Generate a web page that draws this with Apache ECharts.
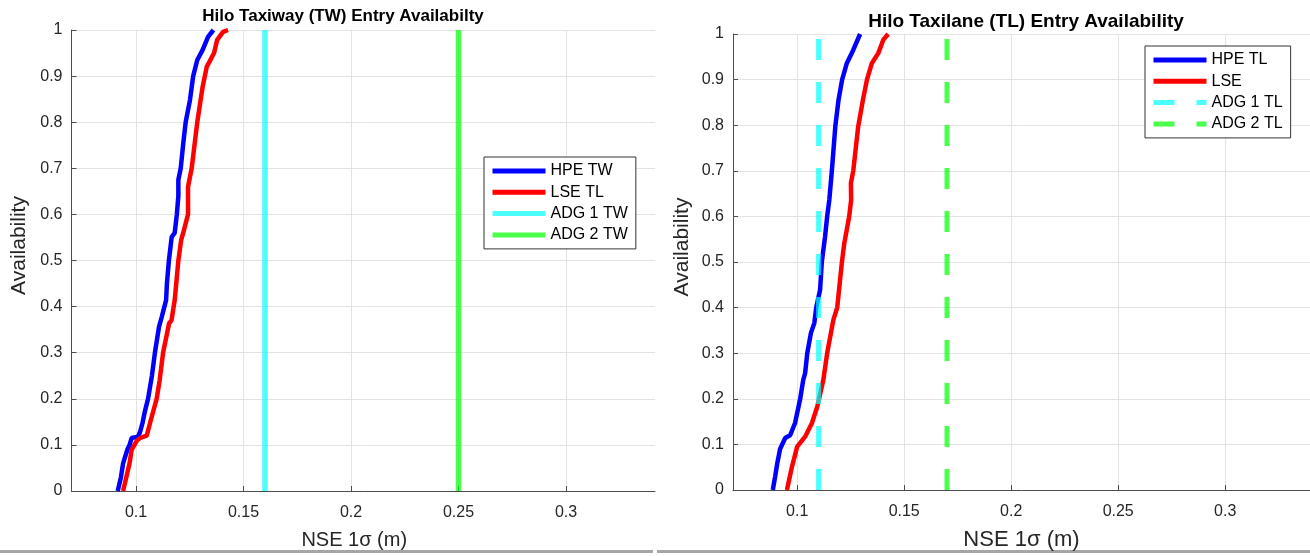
<!DOCTYPE html>
<html>
<head>
<meta charset="utf-8">
<script src="https://cdn.jsdelivr.net/npm/echarts@6/dist/echarts.min.js"></script>
<style>
html,body{margin:0;padding:0;background:#fff;}
#chart{width:1310px;height:556px;}
</style>
</head>
<body>
<div id="chart"></div>
<script>
// ---- data (NSE 1-sigma in m, availability) ----
const hpeTW = [[0.0915,0],[0.093,0.03],[0.094,0.06],[0.096,0.09],[0.097,0.10],[0.098,0.115],[0.101,0.118],[0.102,0.13],[0.103,0.147],[0.104,0.17],[0.1056,0.2],[0.1074,0.25],[0.1088,0.3],[0.1107,0.356],[0.112,0.378],[0.114,0.414],[0.1144,0.451],[0.1153,0.5],[0.1166,0.551],[0.118,0.56],[0.119,0.6],[0.1197,0.64],[0.1197,0.675],[0.1208,0.7],[0.122,0.755],[0.1231,0.8],[0.1251,0.848],[0.1266,0.9],[0.1285,0.935],[0.131,0.957],[0.1335,0.985],[0.136,1.0]];
const lseTW = [[0.094,0],[0.0955,0.03],[0.097,0.06],[0.098,0.09],[0.1005,0.11],[0.102,0.115],[0.105,0.12],[0.1065,0.147],[0.1096,0.2],[0.111,0.24],[0.1126,0.3],[0.1154,0.364],[0.1165,0.37],[0.118,0.414],[0.1197,0.5],[0.121,0.544],[0.1223,0.566],[0.1242,0.6],[0.1242,0.66],[0.1259,0.7],[0.1285,0.8],[0.131,0.877],[0.1329,0.92],[0.1363,0.95],[0.1377,0.978],[0.1405,0.996],[0.1428,1.0]];
const hpeTL = [[0.0886,0],[0.0897,0.03],[0.0907,0.059],[0.092,0.09],[0.0944,0.114],[0.0967,0.12],[0.099,0.147],[0.1014,0.2],[0.1028,0.241],[0.1037,0.256],[0.1047,0.3],[0.1064,0.344],[0.108,0.366],[0.1089,0.4],[0.1107,0.439],[0.1115,0.5],[0.113,0.555],[0.114,0.6],[0.115,0.636],[0.1162,0.7],[0.1178,0.797],[0.1193,0.855],[0.121,0.9],[0.1232,0.936],[0.1262,0.965],[0.1294,1.0]];
const lseTL = [[0.0952,0],[0.0975,0.05],[0.1,0.095],[0.1037,0.117],[0.1069,0.147],[0.1094,0.183],[0.1122,0.241],[0.114,0.3],[0.1169,0.373],[0.1187,0.4],[0.1209,0.5],[0.122,0.541],[0.1243,0.6],[0.1252,0.636],[0.1251,0.673],[0.1262,0.7],[0.1285,0.797],[0.1307,0.855],[0.1326,0.9],[0.1349,0.936],[0.1379,0.958],[0.1402,0.987],[0.1425,1.0]];
const adgTW = [0.16, 0.25];   // ADG 1 TW, ADG 2 TW limits
const adgTL = [0.11, 0.17];   // ADG 1 TL, ADG 2 TL limits
const availRange = [0, 1];
const xTicks = [0.1, 0.15, 0.2, 0.25, 0.3];
const namesLeft = ['HPE TW', 'LSE TL', 'ADG 1 TW', 'ADG 2 TW'];
const namesRight = ['HPE TL', 'LSE', 'ADG 1 TL', 'ADG 2 TL'];
const titles = ['Hilo Taxiway (TW) Entry Availabilty', 'Hilo Taxilane (TL) Entry Availability'];

// ---- styling ----
const FONT = "'Liberation Sans', Arial, Helvetica, sans-serif";
const BLUE = '#0000ff', RED = '#ff0000';
const CYAN = 'rgba(0,255,255,0.7)', GREEN = 'rgba(0,255,0,0.7)';
const AX = '#4d4d4d', GRID = '#e3e3e3', TXT = '#262626';

function vline(x){ return [[x, availRange[0]], [x, availRange[1]]]; }

function xAxisCfg(gi, max, nameGap, nameSize, pad){
  return {
    type: 'value', gridIndex: gi, min: 0.07, max: max,
    name: 'NSE 1\u03c3 (m)', nameLocation: 'middle', nameGap: nameGap,
    nameTextStyle: {fontFamily: FONT, fontSize: nameSize, color: TXT, padding: pad},
    axisLine: {show: true, onZero: false, lineStyle: {color: AX, width: 1}},
    axisTick: {show: true, inside: true, length: 5, lineStyle: {color: AX}, customValues: xTicks},
    axisLabel: {fontFamily: FONT, fontSize: 16, color: TXT, margin: 14, customValues: xTicks,
      formatter: v => String(Math.round(v*100)/100)},
    splitLine: {show: true, lineStyle: {color: GRID, width: 1}}
  };
}
function yAxisCfg(gi, nameGap){
  return {
    type: 'value', gridIndex: gi, min: 0, max: 1, interval: 0.1,
    name: 'Availability', nameLocation: 'middle', nameGap: nameGap, nameRotate: 90,
    nameTextStyle: {fontFamily: FONT, fontSize: 21, color: TXT, padding: [0,0,0,30]},
    axisLine: {show: true, lineStyle: {color: AX, width: 1}},
    axisTick: {show: true, inside: true, length: 5, lineStyle: {color: AX}},
    axisLabel: {fontFamily: FONT, fontSize: 16, color: TXT, margin: 9,
      formatter: v => String(Math.round(v*10)/10)},
    splitLine: {show: true, lineStyle: {color: GRID, width: 1}}
  };
}
function ser(name, data, gi, color, width, type){
  return {
    name: name, type: 'line', xAxisIndex: gi, yAxisIndex: gi, data: data,
    symbol: 'none', showSymbol: false, smooth: false,
    lineStyle: {color: color, width: width, type: type || 'solid', cap: 'butt'},
    itemStyle: {color: color},
    emphasis: {disabled: true}, silent: true
  };
}
function legendCfg(names, left, top){
  return {
    orient: 'vertical', left: left, top: top,
    data: names.map(n => ({name: n, itemStyle: {opacity: 0}})),
    padding: [6, 8, 6, 6], itemWidth: 53, itemHeight: 16, itemGap: 5.3,
    backgroundColor: '#fff', borderColor: '#333', borderWidth: 1,
    textStyle: {fontFamily: FONT, fontSize: 16, color: '#000'},
    itemStyle: {opacity: 0},
    lineStyle: {width: 5}, selectedMode: false
  };
}

const chart = echarts.init(document.getElementById('chart'), null, {renderer: 'canvas'});
chart.setOption({
  animation: false,
  backgroundColor: '#fff',
  grid: [
    {left: 71.5, top: 30, width: 583.5, height: 461, containLabel: false, outerBoundsMode: 'none'},
    {left: 733, top: 34, width: 577, height: 456, containLabel: false, outerBoundsMode: 'none'}
  ],
  xAxis: [xAxisCfg(0, 0.07 + 583.5/2150, 39, 20, [0,18,0,0]), xAxisCfg(1, 0.07 + 577/2140, 39, 22, 0)],
  yAxis: [yAxisCfg(0, 42), yAxisCfg(1, 40)],
  legend: [legendCfg(namesLeft, 484, 157), legendCfg(namesRight, 1145, 46)],
  series: [
    ser(namesLeft[0], hpeTW, 0, BLUE, 4.5),
    ser(namesLeft[1], lseTW, 0, RED, 4.5),
    ser(namesLeft[2], vline(adgTW[0]), 0, CYAN, 5.5),
    ser(namesLeft[3], vline(adgTW[1]), 0, GREEN, 5.5),
    ser(namesRight[0], hpeTL, 1, BLUE, 4.5),
    ser(namesRight[1], lseTL, 1, RED, 4.5),
    ser(namesRight[2], vline(adgTL[0]), 1, CYAN, 5, [21, 22]),
    ser(namesRight[3], vline(adgTL[1]), 1, GREEN, 5, [21, 22])
  ],
  graphic: [
    {type: 'rect', silent: true, shape: {x: 0, y: 550, width: 653, height: 3}, style: {fill: '#a6a6a6'}},
    {type: 'rect', silent: true, shape: {x: 657, y: 550, width: 653, height: 3}, style: {fill: '#a6a6a6'}}
  ],
  title: [
    {text: titles[0], left: 338, top: 3, textAlign: 'center',
      textStyle: {fontFamily: FONT, fontSize: 17, fontWeight: 'bold', color: '#000'}},
    {text: titles[1], left: 1021, top: 7, textAlign: 'center',
      textStyle: {fontFamily: FONT, fontSize: 19, fontWeight: 'bold', color: '#000'}}
  ]
});
</script>
</body>
</html>
